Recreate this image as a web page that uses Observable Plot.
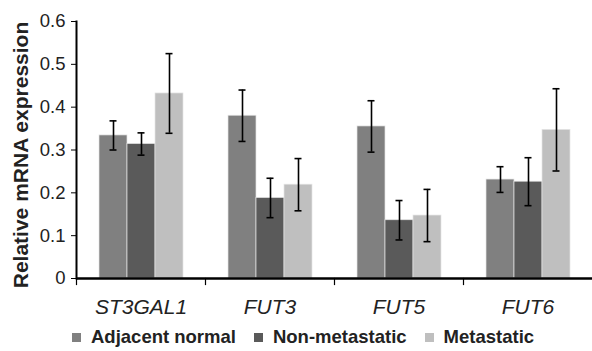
<!DOCTYPE html>
<html><head><meta charset="utf-8">
<script src="https://cdn.jsdelivr.net/npm/d3@7"></script>
<script src="https://cdn.jsdelivr.net/npm/@observablehq/plot@0.6"></script>
<style>
html,body{margin:0;padding:0;background:#fff;overflow:hidden}
#legend{display:flex;align-items:center;height:34px;font:bold 18.5px "Liberation Sans",Arial,sans-serif;color:#222;padding-left:72px}
.item{display:flex;align-items:center;margin-right:18px}
.sw{width:9px;height:9px;margin-right:10px}
</style></head><body><div id="chart"></div><div id="legend"></div>
<script>
const genes = ["ST3GAL1", "FUT3", "FUT5", "FUT6"];
const groups = ["Adjacent normal", "Non-metastatic", "Metastatic"];
const groupColors = ["#808080", "#5a5a5a", "#bfbfbf"];
const adjacentMean = [0.334, 0.380, 0.355, 0.231];
const adjacentErr  = [0.034, 0.060, 0.060, 0.030];
const nonMetMean   = [0.314, 0.188, 0.136, 0.226];
const nonMetErr    = [0.026, 0.046, 0.046, 0.056];
const metMean      = [0.432, 0.219, 0.147, 0.347];
const metErr       = [0.093, 0.061, 0.061, 0.096];
const yTicks = [0, 0.1, 0.2, 0.3, 0.4, 0.5, 0.6];
const yTickLabels = ["0", "0.1", "0.2", "0.3", "0.4", "0.5", "0.6"];
const yLabel = "Relative mRNA expression";

const means = [adjacentMean, nonMetMean, metMean];
const errs = [adjacentErr, nonMetErr, metErr];
const rows = [];
genes.forEach((g, i) => groups.forEach((s, j) => rows.push({gene: g, group: s, value: means[j][i], err: errs[j][i]})));

const H = 320, mTop = 21, mBottom = 42;
const font = "'Liberation Sans', Arial, sans-serif";

const chart = Plot.plot({
  width: 592, height: H, marginLeft: 75, marginRight: 0, marginTop: mTop, marginBottom: mBottom,
  style: {fontFamily: font, fontSize: "18.5px", color: "#222", background: "#fff", overflow: "visible"},
  fx: {domain: genes, padding: 0, label: null, axis: null},
  x: {domain: groups, paddingInner: 0, paddingOuter: 0.737, axis: null},
  y: {domain: [0, 0.6], axis: null},
  color: {domain: groups, range: groupColors},
  marks: [
    Plot.barY(rows, {fx: "gene", x: "group", y: "value", fill: "group", stroke: "#e4e4e4", strokeWidth: 0.7}),
    Plot.ruleX(rows, {fx: "gene", x: "group", y1: d => d.value - d.err, y2: d => d.value + d.err, stroke: "#000", strokeWidth: 1.6}),
    Plot.tickY(rows, {fx: "gene", x: "group", y: d => d.value + d.err, insetLeft: 10.5, insetRight: 10.5, stroke: "#000", strokeWidth: 1.6}),
    Plot.tickY(rows, {fx: "gene", x: "group", y: d => d.value - d.err, insetLeft: 10.5, insetRight: 10.5, stroke: "#000", strokeWidth: 1.6}),
    Plot.ruleY([0], {stroke: "#000", strokeWidth: 2.4}),
    Plot.frame({anchor: "left", fx: () => genes[0], stroke: "#000", strokeWidth: 2}),
    Plot.frame({anchor: "left", insetTop: H - mTop - mBottom, insetBottom: -6, stroke: "#000", strokeWidth: 1.2}),
    Plot.axisY({ticks: yTicks, tickFormat: d => yTickLabels[yTicks.indexOf(d)], tickSize: 5, tickPadding: 6, label: null, stroke: "#000"}),
    Plot.axisFx({anchor: "bottom", tickSize: 0, tickPadding: 21, fontSize: 21, fontStyle: "italic", label: null}),
    Plot.text([yLabel], {fx: () => genes[0], frameAnchor: "left", text: d => d, rotate: -90, dx: -55, dy: 5, fontSize: 21, fontWeight: "bold", textAnchor: "middle"})
  ]
});
document.getElementById("chart").appendChild(chart);

const legend = document.getElementById("legend");
groups.forEach((g, j) => {
  const it = document.createElement("div"); it.className = "item";
  const sw = document.createElement("div"); sw.className = "sw"; sw.style.background = groupColors[j];
  const t = document.createElement("span"); t.textContent = g;
  it.appendChild(sw); it.appendChild(t); legend.appendChild(it);
});
</script></body></html>
